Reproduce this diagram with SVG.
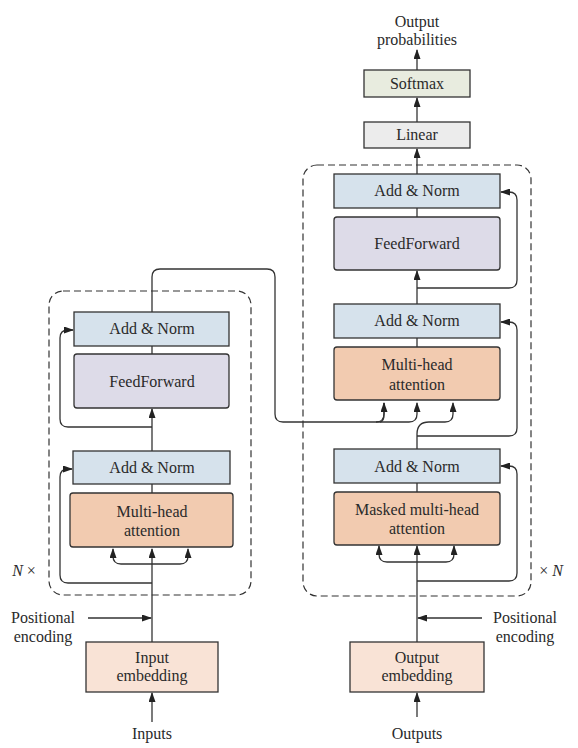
<svg xmlns="http://www.w3.org/2000/svg" width="578" height="748" viewBox="0 0 578 748">
<defs>
<marker id="ah" markerUnits="userSpaceOnUse" markerWidth="10" markerHeight="7" refX="9" refY="3.5" orient="auto">
<path d="M0,0 L10,3.5 L0,7 z" fill="#222"/>
</marker>
<style>
text{font-size:16px;fill:#2a2a2a;text-anchor:middle}
.norm{fill:#d6e2ec;stroke:#333;stroke-width:1.3}
.ff{fill:#dddbe8;stroke:#333;stroke-width:1.3}
.att{fill:#f2cbb0;stroke:#333;stroke-width:1.3}
.emb{fill:#f9e3d6;stroke:#333;stroke-width:1.3}
.soft{fill:#e8ecdf;stroke:#333;stroke-width:1.3}
.lin{fill:#ececec;stroke:#333;stroke-width:1.3}
.dash{fill:none;stroke:#333;stroke-width:1.2;stroke-dasharray:7 4}
.c{fill:none;stroke:#333;stroke-width:1.3}
.a{fill:none;stroke:#333;stroke-width:1.3;marker-end:url(#ah)}
</style>
</defs>
<g id="encoder-block"><rect class="dash" x="49" y="291" width="202" height="304" rx="14"/></g>
<g id="decoder-block"><rect class="dash" x="303" y="165" width="228" height="431" rx="14"/></g>
<g id="connectors">
<path class="a" d="M152,722 V693"/>
<path class="a" d="M152,642 V549"/>
<path class="a" d="M152,564 H121 Q113,564 113,556 V549"/>
<path class="a" d="M152,564 H180 Q188,564 188,556 V549"/>
<path class="a" d="M152,583 H68 Q60,583 60,575 V477 Q60,469 68,469 H72"/>
<path class="c" d="M152,493 V484"/>
<path class="a" d="M152,451 V409"/>
<path class="a" d="M152,427 H68 Q60,427 60,419 V338 Q60,330 68,330 H73"/>
<path class="c" d="M152,354 V346"/>
<path class="c" d="M152,312 V277 Q152,269 160,269 H267 Q275,269 275,277 V414 Q275,422 283,422 H376 Q384,422 384,414 V403"/>
<path class="a" d="M380,422 Q384,422 384,414 V403"/>
<path class="a" d="M376,422 H409 Q417,422 417,414 V403"/>
<path class="a" d="M88,618 H151"/>
<path class="a" d="M417,717 V693"/>
<path class="a" d="M417,642 V546"/>
<path class="a" d="M417,562 H387 Q379,562 379,554 V546"/>
<path class="a" d="M417,562 H446 Q454,562 454,554 V546"/>
<path class="a" d="M417,581 H509 Q517,581 517,573 V474 Q517,466 509,466 H501"/>
<path class="a" d="M482,618 H418"/>
<path class="c" d="M417,492 V483"/>
<path class="a" d="M417,449 V434 Q417,422 429,422 H445 Q453,422 453,414 V403"/>
<path class="a" d="M417,436 H509 Q517,436 517,428 V330 Q517,322 509,322 H501"/>
<path class="c" d="M417,347 V338"/>
<path class="a" d="M417,304 V271"/>
<path class="a" d="M417,288 H509 Q517,288 517,280 V200 Q517,192 509,192 H501"/>
<path class="c" d="M417,217 V208"/>
<path class="a" d="M417,174 V149"/>
<path class="a" d="M417,122 V98"/>
<path class="a" d="M417,70 V50"/>
</g>
<g font-family="'Liberation Serif', 'Times New Roman', serif">
<g id="enc-addnorm2"><rect class="norm" x="74" y="312" width="155" height="34"/><text x="152" y="334">Add &amp; Norm</text></g>
<g id="enc-ff"><rect class="ff" x="74" y="354" width="155" height="54" rx="3"/><text x="152" y="387">FeedForward</text></g>
<g id="enc-addnorm1"><rect class="norm" x="73" y="451" width="157" height="33"/><text x="152" y="473">Add &amp; Norm</text></g>
<g id="enc-mha"><rect class="att" x="70" y="493" width="163" height="54" rx="3"/><text x="152" y="517">Multi-head</text><text x="152" y="536">attention</text></g>
<g id="input-emb"><rect class="emb" x="86" y="642" width="132" height="50"/><text x="152" y="663">Input</text><text x="152" y="681">embedding</text></g>
<g id="inputs"><text x="152" y="739">Inputs</text></g>
<g id="pos-left"><text x="43" y="623">Positional</text><text x="43" y="642">encoding</text></g>
<g id="nx"><text x="24" y="576"><tspan font-style="italic">N</tspan> ×</text></g>
<g id="dec-addnorm3"><rect class="norm" x="334" y="174" width="166" height="34"/><text x="417" y="196">Add &amp; Norm</text></g>
<g id="dec-ff"><rect class="ff" x="334" y="217" width="166" height="53" rx="3"/><text x="417" y="249">FeedForward</text></g>
<g id="dec-addnorm2"><rect class="norm" x="334" y="304" width="166" height="34"/><text x="417" y="326">Add &amp; Norm</text></g>
<g id="dec-mha"><rect class="att" x="334" y="347" width="166" height="53" rx="3"/><text x="417" y="370">Multi-head</text><text x="417" y="390">attention</text></g>
<g id="dec-addnorm1"><rect class="norm" x="334" y="449" width="166" height="34"/><text x="417" y="472">Add &amp; Norm</text></g>
<g id="dec-masked"><rect class="att" x="334" y="492" width="166" height="53" rx="3"/><text x="417" y="515">Masked multi-head</text><text x="417" y="534">attention</text></g>
<g id="output-emb"><rect class="emb" x="350" y="642" width="134" height="50"/><text x="417" y="663">Output</text><text x="417" y="681">embedding</text></g>
<g id="outputs"><text x="417" y="739">Outputs</text></g>
<g id="pos-right"><text x="525" y="623">Positional</text><text x="525" y="642">encoding</text></g>
<g id="xn"><text x="551" y="576">× <tspan font-style="italic">N</tspan></text></g>
<g id="linear"><rect class="lin" x="364" y="122" width="106" height="26"/><text x="417" y="140">Linear</text></g>
<g id="softmax"><rect class="soft" x="364" y="70" width="106" height="27"/><text x="417" y="89">Softmax</text></g>
<g id="out-probs"><text x="417" y="27">Output</text><text x="417" y="45">probabilities</text></g>
</g>
</svg>
